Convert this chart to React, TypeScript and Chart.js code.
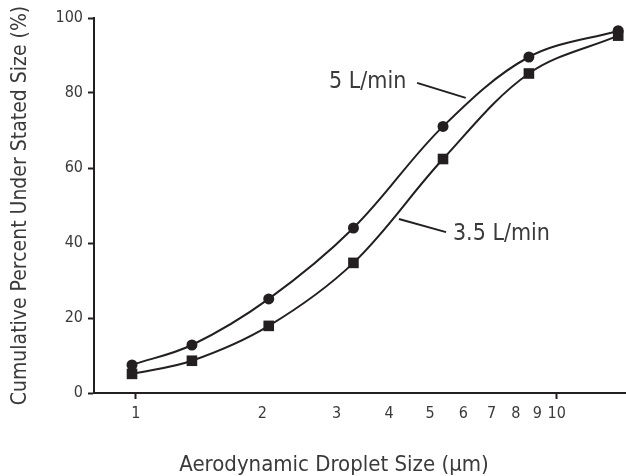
import React, { useEffect, useRef } from "react";
import { Chart, registerables } from "chart.js";

Chart.register(...registerables);

// ---- data ----
const sizes = [0.98, 1.36, 2.07, 3.29, 5.37, 8.59, 14.0];
const cum5 = [7.5, 12.8, 25.1, 44.0, 71.1, 89.6, 96.6];
const cum35 = [5.1, 8.6, 17.9, 34.7, 62.4, 85.2, 95.3];
const xTickValues = [1, 2, 3, 4, 5, 6, 7, 8, 9, 10];
const xMajorTicks = [1, 10];
const yTickValues = [0, 20, 40, 60, 80, 100];
const seriesNames = ["5 L/min", "3.5 L/min"];
// label anchor (left/middle of text) in data coords
const labelAnchorX = [2.88, 5.67];
const labelAnchorY = [83.0, 42.5];
// leader lines in data coords: [x1, y1, x2, y2]
const leaderLines = [
  [4.66, 82.7, 6.08, 78.7],
  [5.46, 42.9, 4.22, 46.4],
];
const xTitle = "Aerodynamic Droplet Size (µm)";
const yTitle = "Cumulative Percent Under Stated Size (%)";

const INK = "#231f20";
const TEXT = "#3a3a3a";
const FONT = '"DejaVu Sans Condensed", "DejaVu Sans", sans-serif';

const textPlugin = {
  id: "customTexts",
  afterDraw(chart: any) {
    const { ctx, chartArea, scales } = chart;
    const xs = scales.x;
    const ys = scales.y;
    ctx.save();
    ctx.fillStyle = TEXT;
    ctx.font = `22px ${FONT}`;
    ctx.textAlign = "center";
    ctx.textBaseline = "middle";
    ctx.fillText(xTitle, 334, 465);
    ctx.save();
    ctx.translate(21, (chartArea.top + chartArea.bottom) / 2);
    ctx.rotate(-Math.PI / 2);
    ctx.font = `21px ${FONT}`;
    ctx.fillText(yTitle, 0, 0);
    ctx.restore();

    ctx.font = `23px ${FONT}`;
    ctx.textAlign = "left";
    seriesNames.forEach((name, i) => {
      ctx.fillText(name, xs.getPixelForValue(labelAnchorX[i]), ys.getPixelForValue(labelAnchorY[i]));
    });
    ctx.strokeStyle = INK;
    ctx.lineWidth = 2;
    leaderLines.forEach((l) => {
      ctx.beginPath();
      ctx.moveTo(xs.getPixelForValue(l[0]), ys.getPixelForValue(l[1]));
      ctx.lineTo(xs.getPixelForValue(l[2]), ys.getPixelForValue(l[3]));
      ctx.stroke();
    });
    ctx.restore();
  },
};

export default function App() {
  const ref = useRef<HTMLCanvasElement | null>(null);
  useEffect(() => {
    if (!ref.current) return;
    const common = {
      borderColor: INK,
      backgroundColor: INK,
      borderWidth: 2,
      pointBorderWidth: 0,
      tension: 0.35,
      fill: false,
      clip: false as any,
    };
    const chart = new Chart(ref.current, {
      type: "line",
      data: {
        datasets: [
          {
            ...common,
            label: seriesNames[0],
            data: sizes.map((x, i) => ({ x, y: cum5[i] })),
            pointStyle: "circle",
            pointRadius: 5.5,
          },
          {
            ...common,
            label: seriesNames[1],
            data: sizes.map((x, i) => ({ x, y: cum35[i] })),
            pointStyle: "rect",
            pointRadius: 7.5,
          },
        ],
      },
      options: {
        animation: false,
        responsive: true,
        maintainAspectRatio: false,
        layout: { autoPadding: false, padding: { top: 18, right: 0, left: 0, bottom: 0 } },
        plugins: { legend: { display: false }, tooltip: { enabled: false } },
        scales: {
          x: {
            type: "logarithmic",
            min: 0.796,
            max: 14.61,
            afterFit: (s: any) => {
              s.height = 83;
              s.paddingLeft = 0;
              s.paddingRight = 0;
            },
            afterBuildTicks: (s: any) => {
              s.ticks = xTickValues.map((v) => ({ value: v }));
            },
            border: { display: true, color: INK, width: 2 },
            grid: {
              drawOnChartArea: false,
              drawTicks: true,
              tickLength: 6,
              tickWidth: 2,
              tickColor: (c: any) =>
                c.tick && xMajorTicks.includes(c.tick.value) ? INK : "rgba(0,0,0,0)",
            },
            ticks: {
              autoSkip: false,
              maxRotation: 0,
              padding: 5,
              color: TEXT,
              font: { family: FONT, size: 16 },
              callback: (v: any) => String(v),
            },
          },
          y: {
            type: "linear",
            min: 0,
            max: 100,
            afterFit: (s: any) => {
              s.width = 94;
            },
            afterBuildTicks: (s: any) => {
              s.ticks = yTickValues.map((v) => ({ value: v }));
            },
            border: { display: true, color: INK, width: 2 },
            grid: {
              drawOnChartArea: false,
              drawTicks: true,
              tickLength: 6,
              tickWidth: 2,
              tickColor: INK,
            },
            ticks: {
              padding: 5,
              color: TEXT,
              font: { family: FONT, size: 16 },
              callback: (v: any) => String(v),
            },
          },
        },
      },
      plugins: [textPlugin],
    });
    return () => chart.destroy();
  }, []);
  return (
    <div style={{ position: "fixed", left: 0, top: 0, width: 626, height: 476 }}>
      <canvas ref={ref} />
    </div>
  );
}
